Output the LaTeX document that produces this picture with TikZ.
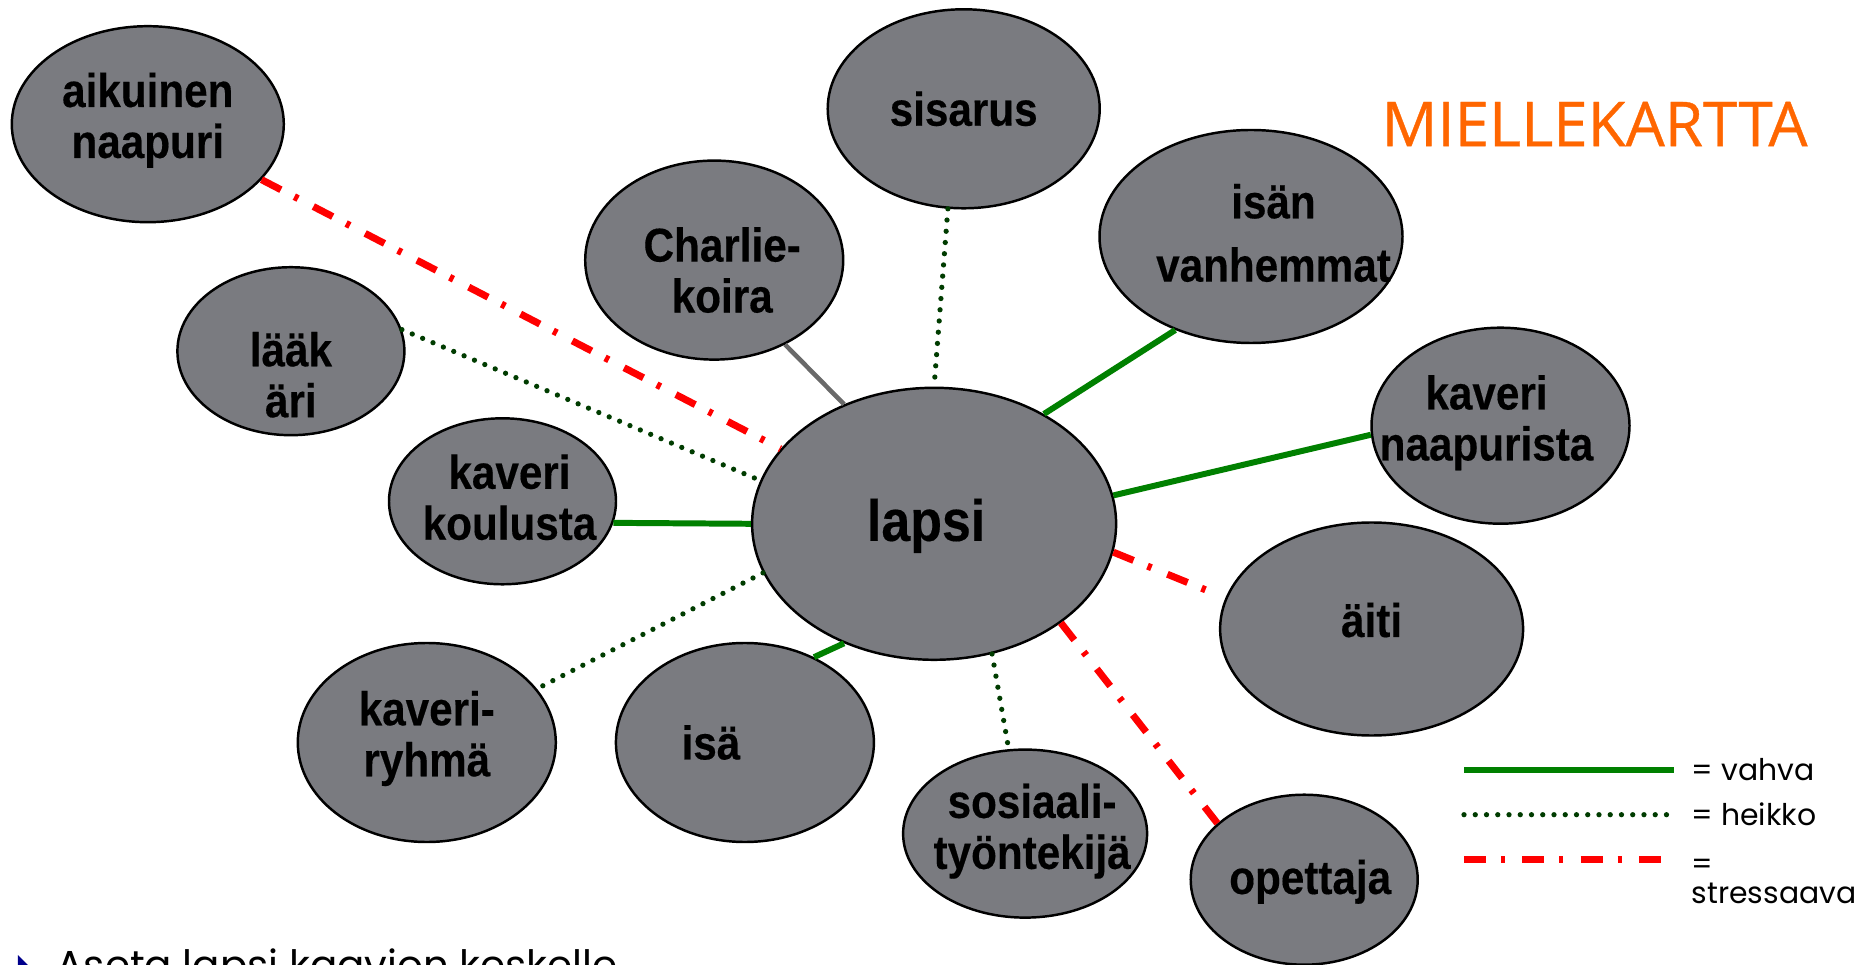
\documentclass[tikz,border=0pt]{standalone}
\usepackage{fontspec}
\usetikzlibrary{shapes.geometric}
\setmainfont{Liberation Sans}
\newfontfamily\kuplafont[FakeStretch=0.89,FakeBold=0.3]{Liberation Sans}
\newfontfamily\otsikkofont[FakeBold=0.6]{Open Sans}
\newfontfamily\selitefont{Poppins}
\definecolor{vihrea}{RGB}{0,128,0}
\definecolor{tummavihrea}{RGB}{0,60,0}
\definecolor{kuplanharmaa}{RGB}{122,123,128}
\definecolor{koiranharmaa}{RGB}{105,105,105}
\definecolor{oranssi}{RGB}{255,102,0}
\definecolor{nuolensininen}{RGB}{0,0,140}
\begin{document}
\begin{tikzpicture}[
    kupla/.style={ellipse, draw=black, line width=0.7pt, fill=kuplanharmaa, inner sep=0pt},
    teksti/.style={font=\kuplafont\bfseries\fontsize{13.5}{14.5}\selectfont, align=center, inner sep=0pt},
    selite/.style={font=\selitefont\fontsize{8.5}{8.5}\selectfont, inner sep=0pt},
    vahva/.style={vihrea, line width=1.7pt},
    heikko/.style={tummavihrea, line width=1.5pt, line cap=round, dash pattern=on 0pt off 3.2pt},
    stressaava/.style={red, line width=2pt, dash pattern=on 6.2pt off 4.3pt on 1.2pt off 4.9pt},
    koira/.style={koiranharmaa, line width=1.3pt}]
    \useasboundingbox (0,0) rectangle (18.54,9.64);
    \clip (0,0) rectangle (18.54,9.64);

    \node[kupla, minimum width=2.72cm, minimum height=1.96cm] (aikuinen) at (1.478,8.398) {};
    \node[kupla, minimum width=2.72cm, minimum height=1.99cm] (sisarus) at (9.637,8.552) {};
    \node[kupla, minimum width=2.58cm, minimum height=1.99cm] (charlie) at (7.142,7.039) {};
    \node[kupla, minimum width=3.03cm, minimum height=2.13cm] (isanvanh) at (12.510,7.275) {};
    \node[kupla, minimum width=2.27cm, minimum height=1.68cm] (laakari) at (2.909,6.128) {};
    \node[kupla, minimum width=2.58cm, minimum height=1.96cm] (naapurikaveri) at (15.005,5.383) {};
    \node[kupla, minimum width=2.27cm, minimum height=1.66cm] (koulukaveri) at (5.025,4.627) {};
    \node[kupla, minimum width=3.64cm, minimum height=2.72cm] (lapsi) at (9.341,4.402) {};
    \node[kupla, minimum width=3.03cm, minimum height=2.13cm] (aiti) at (13.716,3.350) {};
    \node[kupla, minimum width=2.58cm, minimum height=1.99cm] (ryhma) at (4.268,2.215) {};
    \node[kupla, minimum width=2.58cm, minimum height=1.99cm] (isa) at (7.449,2.215) {};
    \node[kupla, minimum width=2.44cm, minimum height=1.68cm] (sossu) at (10.251,1.304) {};
    \node[kupla, minimum width=2.27cm, minimum height=1.70cm] (opettaja) at (13.042,0.843) {};

    \node[teksti] (t_aikuinen) at ([shift={(0,0.04)}]aikuinen.center) {aikuinen\\naapuri};
    \node[teksti] (t_sisarus) at (sisarus.center) {sisarus};
    \node[teksti] (t_charlie) at ([shift={(0.08,-0.10)}]charlie.center) {Charlie-\\koira};
    \node[teksti] (t_isanvanh) at ([shift={(0.225,0.035)}]isanvanh.center) {isän\\[3.5pt]vanhemmat};
    \node[teksti] (t_laakari) at ([shift={(0,-0.236)}]laakari.center) {lääk\\äri};
    \node[teksti] (t_naapurikaveri) at ([shift={(-0.14,0.03)}]naapurikaveri.center) {kaveri\\naapurista};
    \node[teksti] (t_koulukaveri) at ([shift={(0.07,0.04)}]koulukaveri.center) {kaveri\\koulusta};
    \node[teksti, font=\kuplafont\bfseries\fontsize{16.6}{18}\selectfont] (t_lapsi) at ([shift={(-0.08,-0.02)}]lapsi.center) {lapsi};
    \node[teksti] (t_aiti) at ([shift={(0,0.09)}]aiti.center) {äiti};
    \node[teksti] (t_ryhma) at ([shift={(0,0.04)}]ryhma.center) {kaveri-\\ryhmä};
    \node[teksti] (t_isa) at ([shift={(-0.34,0)}]isa.center) {isä};
    \node[teksti] (t_sossu) at ([shift={(0.07,0.025)}]sossu.center) {sosiaali-\\työntekijä};
    \node[teksti] (t_opettaja) at ([shift={(0.06,-0.02)}]opettaja.center) {opettaja};

    % yhteydet lapseen
    \draw[stressaava] (aikuinen.-26) -- (lapsi.154);
    \draw[heikko] (laakari.11) -- (lapsi.166);
    \draw[koira] (charlie.-50) -- (lapsi.127);
    \draw[heikko] (sisarus.-99) -- (lapsi.90);
    \draw[vahva] (isanvanh.-129) -- (lapsi.45);
    \draw[vahva] (naapurikaveri.-176) -- (lapsi.9);
    \draw[vahva] (koulukaveri.-11) -- (lapsi.180);
    \draw[stressaava, shorten >=0.2cm] (lapsi.-9) -- (aiti.168);
    \draw[stressaava] (lapsi.-38) -- (opettaja.147);
    \draw[heikko] (lapsi.-66) -- (sossu.101);
    \draw[vahva] (lapsi.-127) -- (isa.51);
    \draw[heikko] (lapsi.-164) -- (ryhma.26);

    \node[font=\otsikkofont\fontsize{17.6}{20}\selectfont, text=oranssi, inner sep=0pt] (otsikko) at (15.945,8.40) {MIELLEKARTTA};

    % selite
    \coordinate (v1) at (14.64,1.943);
    \coordinate (v2) at (16.74,1.943);
    \coordinate (h1) at (14.64,1.493);
    \coordinate (h2) at (16.74,1.493);
    \coordinate (s1) at (14.64,1.044);
    \coordinate (s2) at (16.74,1.044);
    \draw[vahva] (v1) -- (v2);
    \draw[heikko] (h1) -- (h2);
    \draw[stressaava] (s1) -- (s2);
    \node[selite, anchor=west] (vahvateksti) at (16.91,1.943) {= vahva};
    \node[selite, anchor=west] (heikkoteksti) at (16.91,1.493) {= heikko};
    \node[selite, anchor=north west, align=left] (stressiteksti) at (16.91,1.06) {=\\stressaava};

    % ohje alareunassa
    \fill[nuolensininen] (0.18,0.09) -- (0.30,-0.03) -- (0.18,-0.15) -- cycle;
    \node[font=\selitefont\fontsize{11.5}{13}\selectfont, anchor=base west, inner sep=0pt] (ohje) at (0.56,-0.15) {Aseta lapsi kaavion keskelle};
\end{tikzpicture}
\end{document}
